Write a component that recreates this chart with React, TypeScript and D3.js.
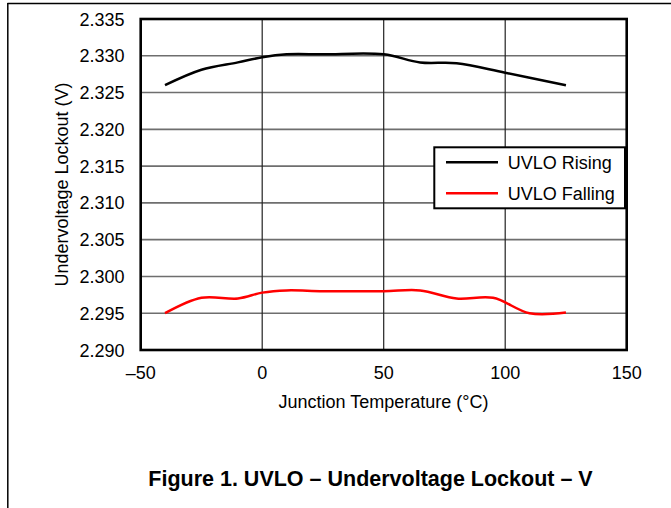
import React from "react";
import * as d3 from "d3";

const risingTemp = [-40, -25, -10, 0, 10, 25, 50, 65, 80, 100, 125];
const risingV = [2.326, 2.3281, 2.3291, 2.3298, 2.3302, 2.3302, 2.3302, 2.3291, 2.329, 2.3277, 2.326];
const fallingTemp = [-40, -25, -10, 0, 10, 25, 50, 65, 80, 95, 110, 125];
const fallingV = [2.295, 2.2971, 2.297, 2.2978, 2.2981, 2.298, 2.298, 2.2981, 2.297, 2.2971, 2.295, 2.2951];
const xTicks = [-50, 0, 50, 100, 150];
const yTicks = [2.29, 2.295, 2.3, 2.305, 2.31, 2.315, 2.32, 2.325, 2.33, 2.335];
const seriesNames = ["UVLO Rising", "UVLO Falling"];
const seriesColors = ["#000000", "#ff0000"];

const L = 140.7, R = 626.7, T = 19, B = 350;
const FONT = "'Liberation Sans', Arial, sans-serif";

export default function App() {
  const x = d3.scaleLinear().domain([-50, 150]).range([L, R]);
  const y = d3.scaleLinear().domain([2.29, 2.335]).range([B, T]);
  const line = d3
    .line<[number, number]>()
    .x((d) => x(d[0]))
    .y((d) => y(d[1]))
    .curve(d3.curveCatmullRom.alpha(0.5));
  const rising = risingTemp.map((t, i) => [t, risingV[i]] as [number, number]);
  const falling = fallingTemp.map((t, i) => [t, fallingV[i]] as [number, number]);
  const series = [rising, falling];

  return (
    <svg
      width={671}
      height={508}
      style={{ position: "absolute", left: 0, top: 0, background: "#fff" }}
      fontFamily={FONT}
    >
      <rect x={0} y={0} width={671} height={508} fill="#fff" />
      <line x1={7.5} x2={671} y1={3.5} y2={3.5} stroke="#000" strokeWidth={1.5} />
      <line x1={7.8} x2={7.8} y1={3} y2={508} stroke="#000" strokeWidth={1.5} />

      {yTicks.map((v) => (
        <line key={"gy" + v} x1={L} x2={R} y1={y(v)} y2={y(v)} stroke="#6e6e6e" strokeWidth={1.6} />
      ))}
      {xTicks.map((v) => (
        <line key={"gx" + v} x1={x(v)} x2={x(v)} y1={T} y2={B} stroke="#222" strokeWidth={1.2} />
      ))}

      {series.map((s, i) => (
        <path key={i} d={line(s) || ""} fill="none" stroke={seriesColors[i]} strokeWidth={2.5} />
      ))}

      <rect x={L} y={T} width={R - L} height={B - T} fill="none" stroke="#000" strokeWidth={2.6} />

      {yTicks.map((v) => (
        <text key={"ty" + v} x={124.5} y={y(v) + 6.5} textAnchor="end" fontSize={18} fill="#000">
          {d3.format(".3f")(v)}
        </text>
      ))}
      {xTicks.map((v) => (
        <text key={"tx" + v} x={x(v)} y={379} textAnchor="middle" fontSize={18} fill="#000">
          {v < 0 ? "\u2013" + Math.abs(v) : String(v)}
        </text>
      ))}

      <text x={383.5} y={408} textAnchor="middle" fontSize={18} fill="#000">
        Junction Temperature (°C)
      </text>
      <text
        transform={`translate(68, ${(T + B) / 2}) rotate(-90)`}
        textAnchor="middle"
        fontSize={18}
        fill="#000"
      >
        Undervoltage Lockout (V)
      </text>

      <rect x={434.3} y={147.3} width={190.7} height={61} fill="#fff" stroke="#000" strokeWidth={2} />
      {seriesNames.map((n, i) => (
        <g key={n}>
          <line x1={446} x2={498} y1={162.3 + i * 31} y2={162.3 + i * 31} stroke={seriesColors[i]} strokeWidth={2.5} />
          <text x={507.7} y={168.5 + i * 31} fontSize={18} fill="#000">
            {n}
          </text>
        </g>
      ))}

      <text x={370.5} y={486} textAnchor="middle" fontSize={21.5} fontWeight="bold" fill="#000">
        Figure 1. UVLO – Undervoltage Lockout – V
      </text>
    </svg>
  );
}
